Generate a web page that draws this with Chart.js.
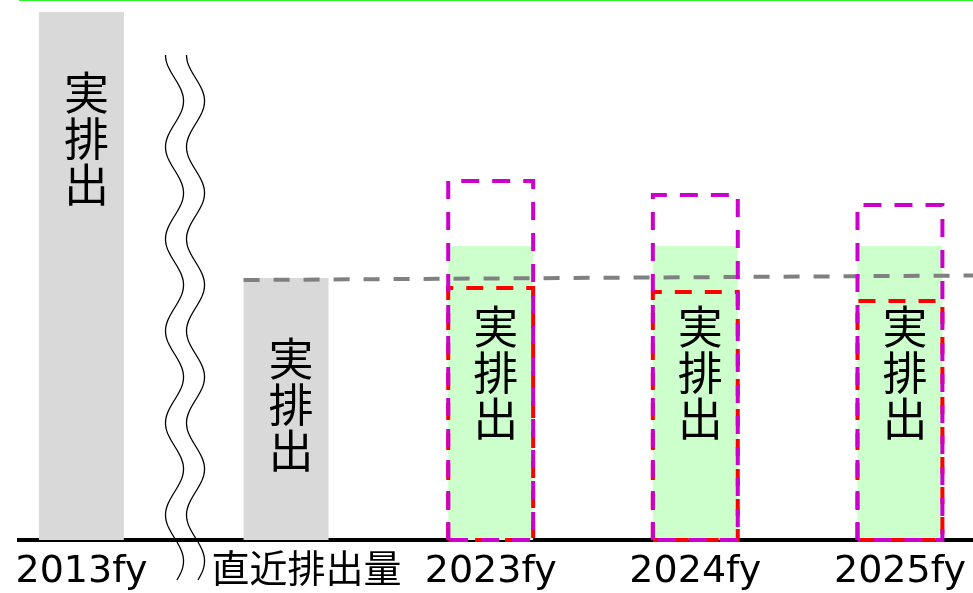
<!DOCTYPE html>
<html>
<head>
<meta charset="utf-8">
<script src="https://cdn.jsdelivr.net/npm/chart.js@4/dist/chart.umd.min.js"></script>
<style>
  html, body { margin: 0; padding: 0; background: #fff; }
  #wrap { width: 973px; height: 593px; }
</style>
</head>
<body>
<div id="wrap"><canvas id="chart"></canvas></div>
<script>
const categories = ['2013fy', '直近排出量', '2023fy', '2024fy', '2025fy'];
const actualEmissions = [528, 262, null, null, null];
const allowance = [null, null, 294, 294, 294];
const projected = [null, null, 252, 248, 239];
const upperLimit = [null, null, 359, 345, 335];
const latestLevel = [260, 264.5];
const barText = '実排出';

// layout
const X_MIN = -0.305, X_MAX = 4.357, Y_MAX = 540;
const BAR_FRAC = 0.415;
const LABEL_NUDGE = 0.1; // the second label sits a little right of its bar
const CJK = '"Noto Sans CJK JP", sans-serif';

const toPoints = arr => arr.map((v, i) => ({ x: i, y: v })).filter(p => p.y !== null);

const overlay = {
  id: 'overlay',
  afterDatasetsDraw(chart) {
    const ctx = chart.ctx;
    ctx.save();
    // vertical text in the solid bars
    ctx.font = '45px ' + CJK;
    ctx.fillStyle = '#000';
    ctx.textAlign = 'center';
    ctx.textBaseline = 'middle';
    [0, 1].forEach(di => {
      chart.getDatasetMeta(di).data.forEach(bar => {
        [...barText].forEach((ch, k) => ctx.fillText(ch, bar.x + 5, bar.y + 81 + k * 46));
      });
    });
    // dashed outlines
    [[2, '#ff0000', [17, 13]], [3, '#cc00cc', [18, 13]]].forEach(([di, color, dash]) => {
      ctx.strokeStyle = color;
      ctx.lineWidth = 4;
      ctx.setLineDash(dash);
      chart.getDatasetMeta(di).data.forEach(bar => {
        const l = bar.x - bar.width / 2, r = bar.x + bar.width / 2;
        ctx.beginPath();
        ctx.moveTo(l, bar.base);
        ctx.lineTo(l, bar.y);
        ctx.lineTo(r, bar.y);
        ctx.lineTo(r, bar.base);
        ctx.lineTo(l, bar.base);
        ctx.stroke();
      });
    });
    ctx.restore();
  },
  afterDraw(chart) {
    // axis break waves between the first two categories
    const ctx = chart.ctx;
    const xs = chart.scales.x;
    const area = chart.chartArea;
    const cx = xs.getPixelForValue(0.455);
    ctx.save();
    ctx.strokeStyle = '#000';
    ctx.lineWidth = 1.3;
    [0, 21].forEach(dx => {
      ctx.beginPath();
      for (let y = area.top + 55; y <= area.bottom + 40; y += 1) {
        const x = cx + dx - 9 * Math.cos(2 * Math.PI * (y - area.top - 55) / 92);
        if (y === area.top + 55) ctx.moveTo(x, y); else ctx.lineTo(x, y);
      }
      ctx.stroke();
    });
    ctx.restore();
  }
};

new Chart(document.getElementById('chart'), {
  type: 'bar',
  data: {
    datasets: [
      { data: toPoints(actualEmissions), backgroundColor: '#d9d9d9', order: 5 },
      { data: toPoints(allowance), backgroundColor: '#ccffcc', order: 5 },
      { data: toPoints(projected), backgroundColor: 'transparent', order: 6 },
      { data: toPoints(upperLimit), backgroundColor: 'transparent', order: 6 },
      {
        type: 'line',
        data: [{ x: 1 - BAR_FRAC / 2, y: latestLevel[0] }, { x: X_MAX, y: latestLevel[1] }],
        borderColor: '#808080', borderWidth: 4, borderDash: [16, 14],
        pointRadius: 0, order: 4
      }
    ]
  },
  options: {
    responsive: true,
    maintainAspectRatio: false,
    animation: false,
    // bar ruler uses the narrowest tick gap, which the label nudge shrinks
    datasets: { bar: { grouped: false, barPercentage: 1, categoryPercentage: BAR_FRAC / (1 - LABEL_NUDGE) } },
    layout: { padding: { left: 19, right: 0, top: 0, bottom: 0 } },
    plugins: { legend: { display: false }, tooltip: { enabled: false } },
    scales: {
      x: {
        type: 'linear', min: X_MIN, max: X_MAX, offset: false,
        afterBuildTicks: s => { s.ticks = categories.map((c, i) => ({ value: i === 1 ? i + LABEL_NUDGE : i })); },
        afterFit: s => { s.height = 53; s.paddingLeft = 0; s.paddingRight = 0; },
        ticks: {
          autoSkip: false, maxRotation: 0, padding: 13, color: '#000',
          font: { family: '"DejaVu Sans", "Noto Sans CJK JP", sans-serif', size: 38, lineHeight: 1 },
          callback: v => categories[Math.round(v)]
        },
        grid: { display: false, drawTicks: false },
        border: { display: true, color: '#000', width: 4 }
      },
      y: {
        min: 0, max: Y_MAX,
        afterBuildTicks: s => { s.ticks = [{ value: Y_MAX }]; },
        ticks: { display: false },
        grid: { drawTicks: false, lineWidth: 2, color: c => c.tick && c.tick.value === Y_MAX ? '#2ef22e' : 'transparent' },
        border: { display: false }
      }
    }
  },
  plugins: [overlay]
});
</script>
</body>
</html>
